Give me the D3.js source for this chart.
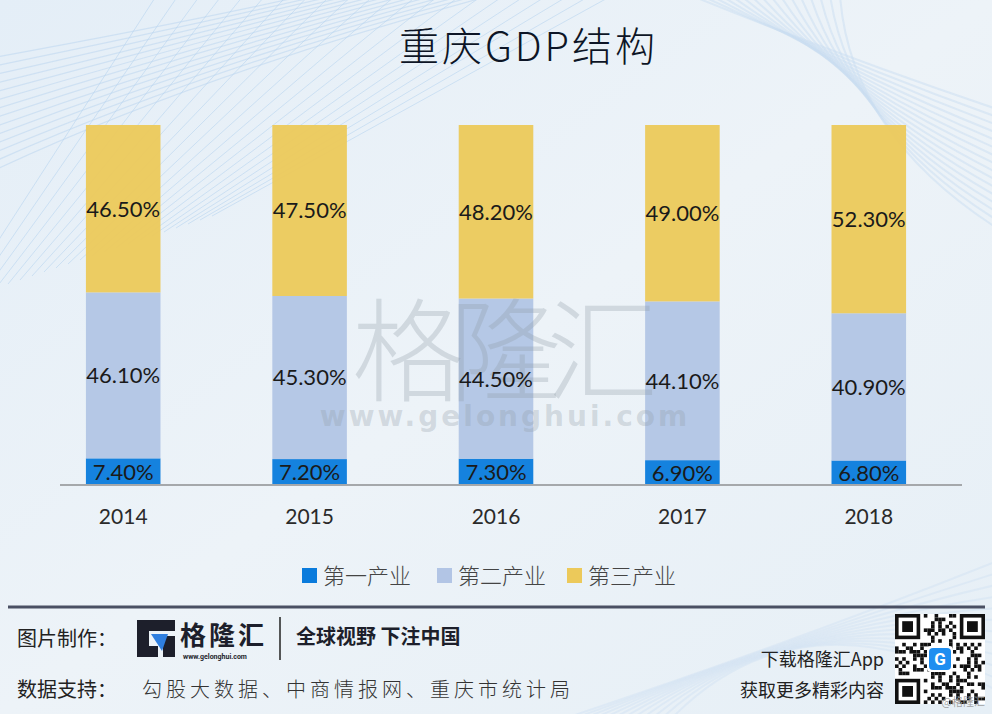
<!DOCTYPE html>
<html>
<head>
<meta charset="utf-8">
<script src="https://cdn.jsdelivr.net/npm/d3@7"></script>
<style>
  html, body { margin: 0; padding: 0; background: #eaf2f8; }
  svg { display: block; }
</style>
</head>
<body>
<div id="chart"></div>
<script>
// --- data ---
const years = ['2014', '2015', '2016', '2017', '2018'];
const primary = [7.4, 7.2, 7.3, 6.9, 6.8];
const secondary = [46.1, 45.3, 44.5, 44.1, 40.9];
const tertiary = [46.5, 47.5, 48.2, 49.0, 52.3];
const seriesNames = ['第一产业', '第二产业', '第三产业'];
const seriesColors = ['#0a7bdc', '#b2c5e5', '#ecc95a'];

const W = 992, H = 714;
const svg = d3.select('#chart').append('svg').attr('width', W).attr('height', H);

// background
const defs = svg.append('defs');
const bg = defs.append('linearGradient').attr('id', 'bg').attr('x1', 0).attr('y1', 0).attr('x2', 1).attr('y2', 1);
bg.append('stop').attr('offset', 0).attr('stop-color', '#e4eef7');
bg.append('stop').attr('offset', 0.5).attr('stop-color', '#edf3f8');
bg.append('stop').attr('offset', 1).attr('stop-color', '#e6eff6');
svg.append('rect').attr('width', W).attr('height', H).attr('fill', 'url(#bg)');

// decorative lines, top left and right / bottom right
const deco = svg.append('g').attr('fill', 'none');
for (let i = 0; i < 22; i++) {
  deco.append('path')
    .attr('d', `M${-40 + i * 12},${300 - i * 4} L${160 + i * 22},${-10}`)
    .attr('stroke', '#a9cbed').attr('stroke-opacity', 0.45).attr('stroke-width', 1);
}
for (let i = 0; i < 14; i++) {
  deco.append('path')
    .attr('d', `M${-20},${60 + i * 9} Q${200},${20 + i * 4} ${330 + i * 14},${-10}`)
    .attr('stroke', '#b8d4ef').attr('stroke-opacity', 0.5).attr('stroke-width', 1.2);
}
for (let i = 0; i < 16; i++) {
  deco.append('path')
    .attr('d', `M${690 + i * 10},${-5} Q${850},${60 + i * 5} ${1000},${110 + i * 8}`)
    .attr('stroke', '#c9def1').attr('stroke-opacity', 0.5).attr('stroke-width', 2);
}
for (let i = 0; i < 12; i++) {
  deco.append('path')
    .attr('d', `M${560 + i * 10},${720} Q${800},${640 - i * 5} ${1000},${560 + i * 12}`)
    .attr('stroke', '#d5e5f3').attr('stroke-opacity', 0.6).attr('stroke-width', 2);
}

// title
svg.append('text')
  .attr('x', 527).attr('y', 61)
  .attr('text-anchor', 'middle')
  .attr('font-family', '"Noto Sans CJK SC", sans-serif')
  .attr('font-size', 40)
  .attr('font-weight', 300)
  .attr('fill', '#0d1526')
  .attr('textLength', 256)
  .text('重庆GDP结构');

// chart
const x = d3.scaleBand().domain(years).range([30, 962]).paddingInner(0.6).paddingOuter(0.3);
const y = d3.scaleLinear().domain([0, 100]).range([485, 125]);

const rows = years.map((yr, i) => ({ year: yr, p: primary[i], s: secondary[i], t: tertiary[i] }));
const stack = d3.stack().keys(['p', 's', 't']);
const layers = stack(rows);

const barG = svg.append('g');
layers.forEach((layer, k) => {
  barG.append('g').attr('fill', seriesColors[k]).attr('fill-opacity', 0.95)
    .selectAll('rect').data(layer).join('rect')
    .attr('x', d => x(d.data.year))
    .attr('width', x.bandwidth())
    .attr('y', d => y(d[1]))
    .attr('height', d => y(d[0]) - y(d[1]));
});

// watermark
const wm = svg.append('g').attr('fill', '#8f9aa4').attr('fill-opacity', 0.3);
wm.append('text').attr('x', 505).attr('y', 393).attr('text-anchor', 'middle')
  .attr('font-family', '"Noto Sans CJK SC", sans-serif').attr('font-size', 112).attr('font-weight', 300)
  .attr('textLength', 306)
  .text('格隆汇');
wm.append('text').attr('x', 505).attr('y', 426).attr('text-anchor', 'middle')
  .attr('font-family', '"DejaVu Sans", sans-serif').attr('font-size', 28).attr('font-weight', 'bold')
  .attr('letter-spacing', 3)
  .text('www.gelonghui.com');

// labels
const labG = svg.append('g')
  .attr('font-family', 'Lato, "Open Sans", sans-serif')
  .attr('font-size', 22)
  .attr('fill', '#1a1a1a')
  .attr('text-anchor', 'middle');
layers.forEach(layer => {
  labG.append('g').selectAll('text').data(layer).join('text')
    .attr('x', d => x(d.data.year) + x.bandwidth() / 2)
    .attr('y', d => (y(d[0]) + y(d[1])) / 2)
    .attr('dy', '0.36em')
    .text(d => (d[1] - d[0]).toFixed(2) + '%');
});

// x axis
const axis = svg.append('g').attr('transform', 'translate(0,485)')
  .call(d3.axisBottom(x).tickSize(0).tickPadding(24));
axis.select('.domain').attr('d', 'M60,0H962').attr('stroke', '#a5a8ab').attr('stroke-width', 2);
axis.selectAll('text')
  .attr('font-family', 'Lato, "Open Sans", sans-serif')
  .attr('font-size', 21)
  .attr('fill', '#2a2a2a');

// legend
const legX = [302, 437, 567];
const leg = svg.append('g');
seriesNames.forEach((name, i) => {
  leg.append('rect').attr('x', legX[i]).attr('y', 568).attr('width', 15).attr('height', 15).attr('fill', seriesColors[i]);
  leg.append('text').attr('x', legX[i] + 21).attr('y', 584)
    .attr('font-family', '"Noto Sans CJK SC", sans-serif').attr('font-size', 22).attr('font-weight', 300)
    .attr('fill', '#444').text(name);
});

// footer
const foot = svg.append('g');
foot.append('line').attr('x1', 8).attr('x2', 985).attr('y1', 607).attr('y2', 607)
  .attr('stroke', '#4a5063').attr('stroke-width', 3);
const cjk = '"Noto Sans CJK SC", sans-serif';
foot.append('text').attr('x', 17).attr('y', 646).attr('font-family', cjk).attr('font-size', 20)
  .attr('fill', '#222').text('图片制作：');
// logo
foot.append('path')
  .attr('d', 'M137,620 H175 V631 H149 V646 H158 V657 H137 Z M163,636 H175 V657 H163 Z')
  .attr('fill', '#1d1f2b');
foot.append('path').attr('d', 'M151,634 L168,634 L162,651 Z').attr('fill', '#2f7fe0');
foot.append('text').attr('x', 180).attr('y', 645).attr('font-family', cjk).attr('font-size', 26)
  .attr('font-weight', 'bold').attr('fill', '#1d1f2b').attr('textLength', 84).text('格隆汇');
foot.append('text').attr('x', 183).attr('y', 659).attr('font-family', 'Roboto, sans-serif')
  .attr('font-size', 7).attr('font-weight', 'bold').attr('fill', '#1d1f2b').text('www.gelonghui.com');
foot.append('line').attr('x1', 280).attr('x2', 280).attr('y1', 617).attr('y2', 660)
  .attr('stroke', '#222').attr('stroke-width', 1.5);
foot.append('text').attr('x', 296).attr('y', 644).attr('font-family', cjk).attr('font-size', 20)
  .attr('font-weight', 'bold').attr('fill', '#1d1f2b').text('全球视野 下注中国');
foot.append('text').attr('x', 17).attr('y', 697).attr('font-family', cjk).attr('font-size', 20)
  .attr('fill', '#222').text('数据支持：');
foot.append('text').attr('x', 142).attr('y', 697).attr('font-family', cjk).attr('font-size', 20)
  .attr('font-weight', 300).attr('fill', '#333').attr('textLength', 428).text('勾股大数据、中商情报网、重庆市统计局');
foot.append('text').attr('x', 884).attr('y', 666).attr('text-anchor', 'end').attr('font-family', cjk)
  .attr('font-size', 18).attr('fill', '#222').text('下载格隆汇App');
foot.append('text').attr('x', 884).attr('y', 697).attr('text-anchor', 'end').attr('font-family', cjk)
  .attr('font-size', 18).attr('fill', '#222').text('获取更多精彩内容');

// QR-like badge
const qr = foot.append('g').attr('transform', 'translate(895,614)');
qr.append('rect').attr('width', 90).attr('height', 90).attr('fill', '#fff');
const cell = 90 / 25;
const seed = 'gelonghui-app-download-qr';
for (let r = 0; r < 25; r++) {
  for (let c = 0; c < 25; c++) {
    const inFinder = (r < 8 && c < 8) || (r < 8 && c > 16) || (r > 16 && c < 8);
    if (inFinder) continue;
    const code = seed.charCodeAt((r * 7 + c * 3) % seed.length);
    if (((code * (r + 3) + c * 11 + r * c) % 5) < 2) {
      qr.append('rect').attr('x', c * cell).attr('y', r * cell).attr('width', cell).attr('height', cell).attr('fill', '#111');
    }
  }
}
[[0, 0], [18, 0], [0, 18]].forEach(([c, r]) => {
  qr.append('rect').attr('x', c * cell + cell / 2).attr('y', r * cell + cell / 2)
    .attr('width', cell * 6).attr('height', cell * 6).attr('fill', 'none').attr('stroke', '#111').attr('stroke-width', cell);
  qr.append('rect').attr('x', (c + 2) * cell).attr('y', (r + 2) * cell)
    .attr('width', cell * 3).attr('height', cell * 3).attr('fill', '#111');
});
qr.append('rect').attr('x', 32).attr('y', 32).attr('width', 26).attr('height', 26).attr('rx', 4).attr('fill', '#fff');
qr.append('rect').attr('x', 34).attr('y', 34).attr('width', 22).attr('height', 22).attr('rx', 4).attr('fill', '#1f8ef0');
qr.append('text').attr('x', 45).attr('y', 51).attr('text-anchor', 'middle').attr('font-family', 'Roboto, sans-serif')
  .attr('font-weight', 'bold').attr('font-size', 17).attr('fill', '#fff').text('G');
foot.append('text').attr('x', 985).attr('y', 706).attr('text-anchor', 'end').attr('font-family', cjk)
  .attr('font-size', 11).attr('fill', '#999').attr('fill-opacity', 0.9).text('@格隆汇');
</script>
</body>
</html>
